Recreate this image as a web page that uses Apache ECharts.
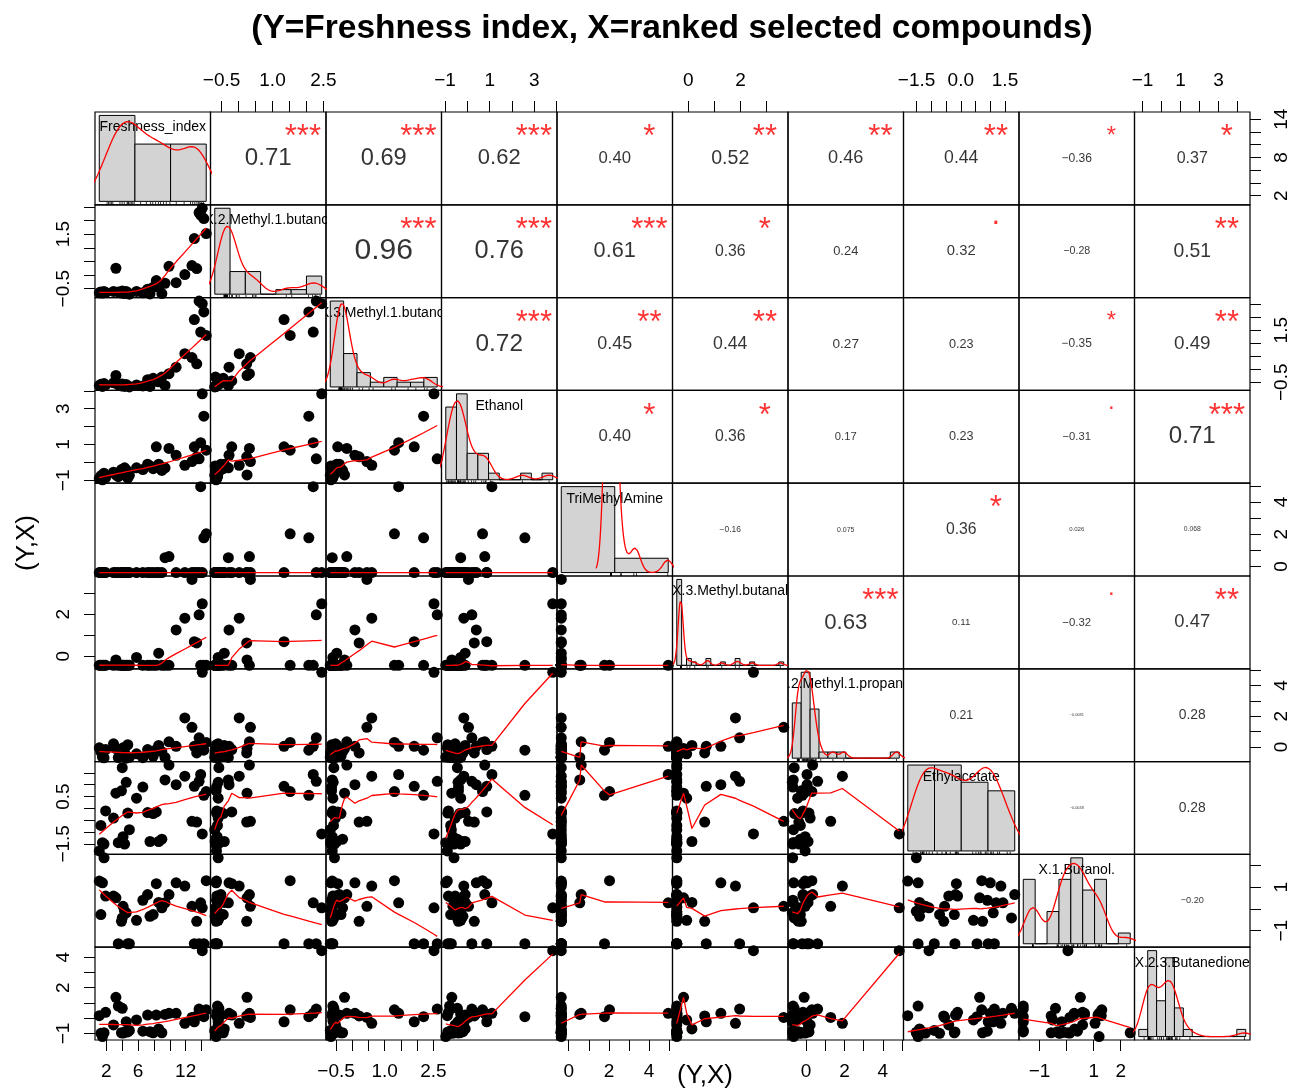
<!DOCTYPE html>
<html>
<head>
<meta charset="utf-8">
<script src="https://cdn.jsdelivr.net/npm/echarts@6/dist/echarts.min.js"></script>
<style>
  html, body { margin: 0; background: #fff; }
  #chart { width: 1293px; height: 1091px; }
</style>
</head>
<body>
<div id="chart"></div>
<script>
// variables, one value per sample (35 samples, ordered by freshness)
const varNames = ['Freshness_index', 'X.2.Methyl.1.butanol', 'X.3.Methyl.1.butanol', 'Ethanol', 'TriMethylAmine',
  'X.3.Methyl.butanal', 'X.2.Methyl.1.propanol', 'Ethylacetate', 'X.1.Butanol.', 'X.2.3.Butanedione'];

const freshness = [1.1, 1.3, 1.5, 1.7, 1.9, 2.9, 3.2, 3.5, 3.9, 4.0, 4.1, 4.3, 4.5, 4.7, 4.9,
  5.8, 6.6, 7.2, 7.5, 7.9, 8.3, 8.6, 9.0, 9.4, 9.9, 10.8, 11.9, 12.8, 13.1, 13.4, 13.7, 13.9, 14.1, 14.3, 14.6];
const methylButanol2 = [-0.65, -0.62, -0.66, -0.6, -0.64, -0.6, 0.25, -0.62, -0.66, -0.58, -0.63, -0.68, -0.6, -0.65, -0.7,
  -0.6, -0.65, -0.52, -0.69, -0.45, -0.2, -0.42, -0.68, -0.3, 0.32, -0.28, 0.02, 0.35, 1.34, 0.24, 2.29, 2.2, 2.45, 2.07, 1.52];
const methylButanol3 = [-0.62, -0.58, -0.66, -0.55, -0.6, -0.52, -0.24, -0.6, -0.64, -0.57, -0.62, -0.66, -0.59, -0.63, -0.68,
  -0.6, -0.64, -0.4, -0.66, -0.35, -0.45, -0.48, -0.3, -0.62, -0.17, 0.08, 0.6, 0.45, 1.91, 0.21, 2.62, 1.43, 2.52, 2.2, 1.3];
const ethanol = [-0.9, -0.75, -0.97, -0.6, -0.85, -0.55, -0.7, -0.8, -0.4, -0.45, -0.65, -0.3, -0.42, -0.88, -0.72,
  -0.3, -0.4, -0.1, -0.2, -0.35, 0.87, -0.1, -0.45, -0.3, 0.78, 0.4, -0.16, 0.05, 0.87, 0.31, 0.2, 1.1, 3.83, 2.58, 0.68];
const trimethylamine = [-0.37, -0.37, -0.37, -0.37, -0.37, -0.37, -0.37, -0.37, -0.37, -0.37, -0.37, -0.37, -0.37, -0.37, -0.37,
  -0.37, -0.37, -0.37, -0.37, -0.37, -0.37, -0.37, -0.37, 0.55, 0.62, -0.37, -0.37, -0.37, -0.37, -0.37, -0.37, 4.95, -0.37, 1.78, 2.03];
const methylButanal3 = [-0.44, -0.44, -0.44, -0.44, -0.44, -0.44, -0.18, -0.44, -0.44, -0.44, -0.44, -0.44, -0.44, -0.44, -0.44,
  -0.06, -0.44, -0.44, -0.44, -0.44, -0.44, 0.14, -0.44, -0.44, -0.44, 1.25, 1.81, 3.66, 0.69, 0.63, 1.97, -0.44, 2.5, -0.44, -0.44];
const methylPropanol2 = [-0.05, -0.3, -0.65, -0.7, -0.16, 0.21, -0.1, -0.68, -0.25, -0.62, -0.05, -0.35, -0.72, 0.15, -0.66,
  -0.44, -0.69, -0.16, -0.4, -0.6, -0.16, 0.1, -0.3, -0.67, 0.34, 0.05, 1.89, 1.28, 0.05, -0.38, 0.6, 0.05, 4.85, -0.2, 0.3];
const ethylacetate = [-1.8, -0.72, -1.45, -1.51, -0.11, -0.41, 0.64, -1.45, 0.74, 1.72, -1.2, -1.51, 1.1, -0.2, -0.9,
  0.43, 0.9, -0.18, -1.4, -0.22, -0.15, -1.4, -1.3, 1.2, 1.83, 1.0, 1.36, -0.55, 0.93, -0.58, 1.14, 1.43, -1.08, 0.55, 0.71];
const butanol1 = [1.28, -0.26, 1.2, 2.35, 0.59, 0.59, 0.51, -1.6, -0.57, -0.41, 0.12, -0.11, -0.18, -1.6, -1.6,
  -0.52, 0.4, 0.66, -0.34, -0.26, 1.16, 0.3, 0.05, 0.28, 0.66, 1.2, 1.05, 0.12, -1.6, -0.57, -1.6, 0.28, 0.05, -1.6, 1.3];
const butanedione23 = [0.17, -0.99, -1.2, -0.95, 0.39, -0.44, 1.37, 0.8, -0.95, 0.65, -0.97, -0.92, -0.23, -0.9, -0.8,
  -0.11, -0.85, 0.21, -0.88, -0.95, 0.21, -0.7, -0.95, 0.25, 0.32, 0.32, -0.33, 0.05, -0.23, 0.15, 0.6, 0.32, 4.43, 0.1, 0.55];

// correlations printed in the upper panels (row i, columns i+1 .. 9)
const corrCoef = [
  [0.71, 0.69, 0.62, 0.40, 0.52, 0.46, 0.44, -0.36, 0.37],
  [0.96, 0.76, 0.61, 0.36, 0.24, 0.32, -0.28, 0.51],
  [0.72, 0.45, 0.44, 0.27, 0.23, -0.35, 0.49],
  [0.40, 0.36, 0.17, 0.23, -0.31, 0.71],
  [-0.16, 0.075, 0.36, 0.026, 0.068],
  [0.63, 0.11, -0.32, 0.47],
  [0.21, -0.0081, 0.28],
  [-0.0048, 0.28],
  [-0.20]
];
const corrSignif = [
  ['***', '***', '***', '*', '**', '**', '**', '*', '*'],
  ['***', '***', '***', '*', '', '.', '', '**'],
  ['***', '**', '**', '', '', '*', '**'],
  ['*', '*', '', '', '.', '***'],
  ['', '', '*', '', ''],
  ['***', '', '.', '**'],
  ['', '', ''],
  ['', ''],
  ['']
];

// axis ticks and the labels R kept on each side
const tickStep = [2, 0.5, 0.5, 1, 1, 1, 1, 0.5, 1, 1];
const xTickLabels = [['2', '6', '12'], ['-0.5', '1.0', '2.5'], ['-0.5', '1.0', '2.5'], ['-1', '1', '3'], ['0', '2', '4'],
  ['0', '2'], ['0', '2', '4'], ['-1.5', '0.0', '1.5'], ['-1', '1', '2'], ['-1', '1', '3']];
const yTickLabels = [['2', '8', '14'], ['-0.5', '1.5'], ['-0.5', '1.5'], ['-1', '1', '3'], ['0', '2', '4'],
  ['0', '2'], ['0', '2', '4'], ['-1.5', '0.5'], ['-1', '1'], ['-1', '2', '4']];
const histBinWidth = [5, 0.5, 0.5, 0.5, 5, 0.2, 0.5, 1, 0.5, 0.5];

const vars = [freshness, methylButanol2, methylButanol3, ethanol, trimethylamine,
  methylButanal3, methylPropanol2, ethylacetate, butanol1, butanedione23];

const FONT = '"Liberation Sans", Arial, Helvetica, sans-serif';
const panelLeft = 95, panelTop = 112, panelW = 115.5, panelH = 92.8;
const nv = vars.length;

function padRange(lo, hi) {
  const r = hi - lo;
  return [lo - 0.04 * r, hi + 0.04 * r];
}

// port of R's lowess (clowess)
function lowess(xIn, yIn, f, nsteps) {
  const n = xIn.length;
  const order = xIn.map((_, i) => i).sort((a, b) => xIn[a] - xIn[b] || a - b);
  const x = order.map(i => xIn[i]);
  const y = order.map(i => yIn[i]);
  const ys = new Array(n).fill(0), rw = new Array(n).fill(1), res = new Array(n).fill(0), w = new Array(n).fill(0);
  const ns = Math.max(2, Math.min(n, Math.floor(f * n + 1e-7)));
  const range = x[n - 1] - x[0];
  const delta = 0.01 * range;

  function lowest(xs, nleft, nright, userw) {
    const h = Math.max(xs - x[nleft], x[nright] - xs);
    const h9 = 0.999 * h, h1 = 0.001 * h;
    let a = 0, j = nleft;
    while (j < n) {
      w[j] = 0;
      const r = Math.abs(x[j] - xs);
      if (r <= h9) {
        w[j] = r <= h1 ? 1 : Math.pow(1 - Math.pow(r / h, 3), 3);
        if (userw) w[j] *= rw[j];
        a += w[j];
      } else if (x[j] > xs) break;
      j++;
    }
    const nrt = j - 1;
    if (a <= 0) return null;
    for (j = nleft; j <= nrt; j++) w[j] /= a;
    if (h > 0) {
      a = 0;
      for (j = nleft; j <= nrt; j++) a += w[j] * x[j];
      let b = xs - a, c = 0;
      for (j = nleft; j <= nrt; j++) c += w[j] * (x[j] - a) * (x[j] - a);
      if (Math.sqrt(c) > 0.001 * range) {
        b /= c;
        for (j = nleft; j <= nrt; j++) w[j] *= (b * (x[j] - a) + 1);
      }
    }
    let out = 0;
    for (j = nleft; j <= nrt; j++) out += w[j] * y[j];
    return out;
  }

  for (let iter = 1; iter <= nsteps + 1; iter++) {
    let nleft = 0, nright = ns - 1, last = -1, i = 0;
    for (;;) {
      if (nright < n - 1) {
        const d1 = x[i] - x[nleft], d2 = x[nright + 1] - x[i];
        if (d1 > d2) { nleft++; nright++; continue; }
      }
      const v = lowest(x[i], nleft, nright, iter > 1);
      ys[i] = v === null ? y[i] : v;
      if (last < i - 1) {
        const denom = x[i] - x[last];
        for (let j = last + 1; j < i; j++) {
          const alpha = (x[j] - x[last]) / denom;
          ys[j] = alpha * ys[i] + (1 - alpha) * ys[last];
        }
      }
      last = i;
      const cut = x[last] + delta;
      for (i = last + 1; i < n; i++) {
        if (x[i] > cut) break;
        if (x[i] === x[last]) { ys[i] = ys[last]; last = i; }
      }
      i = Math.max(last + 1, i - 1);
      if (last >= n - 1) break;
    }
    let sc = 0;
    for (let i2 = 0; i2 < n; i2++) { res[i2] = y[i2] - ys[i2]; sc += Math.abs(res[i2]); }
    sc /= n;
    if (iter > nsteps) break;
    const ar = res.map(Math.abs).sort((a, b) => a - b);
    const cmad = n % 2 === 0 ? 3 * (ar[n / 2] + ar[n / 2 - 1]) : 6 * ar[(n - 1) / 2];
    if (cmad < 1e-7 * sc) break;
    const c9 = 0.999 * cmad, c1 = 0.001 * cmad;
    for (let i2 = 0; i2 < n; i2++) {
      const r = Math.abs(res[i2]);
      rw[i2] = r <= c1 ? 1 : r <= c9 ? Math.pow(1 - Math.pow(r / cmad, 2), 2) : 0;
    }
  }
  return x.map((xv, i) => [xv, ys[i]]);
}

// gaussian kernel density with R's bw.nrd0
function density(v) {
  const n = v.length;
  const s = v.slice().sort((a, b) => a - b);
  const mean = v.reduce((a, b) => a + b, 0) / n;
  const sd = Math.sqrt(v.reduce((a, b) => a + (b - mean) * (b - mean), 0) / (n - 1));
  const q = p => { const h = (n - 1) * p, lo = Math.floor(h); return s[lo] + (h - lo) * (s[Math.min(lo + 1, n - 1)] - s[lo]); };
  let lo = Math.min(sd, (q(0.75) - q(0.25)) / 1.34);
  if (!(lo > 0)) lo = sd || Math.abs(v[0]) || 1;
  const bw = 0.9 * lo * Math.pow(n, -0.2);
  const from = s[0] - 3 * bw, to = s[n - 1] + 3 * bw;
  const pts = [];
  for (let k = 0; k < 512; k++) {
    const xx = from + (to - from) * k / 511;
    let d = 0;
    for (const xi of v) { const z = (xx - xi) / bw; d += Math.exp(-0.5 * z * z); }
    pts.push([xx, d / (n * bw * Math.sqrt(2 * Math.PI))]);
  }
  return pts;
}

const ranges = vars.map(v => padRange(Math.min(...v), Math.max(...v)));
const ticks = ranges.map((rg, k) => {
  const st = tickStep[k], out = [];
  for (let t = Math.ceil(rg[0] / st - 1e-9); t <= Math.floor(rg[1] / st + 1e-9); t++) out.push(+(t * st).toFixed(6));
  return out;
});

const hist = vars.map((v, k) => {
  const bw = histBinWidth[k];
  const start = Math.floor(Math.min(...v) / bw + 1e-9) * bw;
  const end = Math.ceil(Math.max(...v) / bw - 1e-9) * bw;
  const nb = Math.round((end - start) / bw);
  const counts = new Array(nb).fill(0);
  v.forEach(xv => {
    let b = Math.ceil((xv - start) / bw - 1e-9) - 1;
    if (b < 0) b = 0;
    if (b >= nb) b = nb - 1;
    counts[b]++;
  });
  const bins = counts.map((c, b) => [start + b * bw, start + (b + 1) * bw, c / (v.length * bw)]);
  const M = Math.max(...bins.map(b => b[2]));
  return { bins, xRange: padRange(start, end), yRange: padRange(0, M), dens: density(v) };
});

const charEm = { '0': .556, '1': .556, '2': .556, '3': .556, '4': .556, '5': .556, '6': .556, '7': .556, '8': .556, '9': .556, '.': .278, '\u2212': .584 };
function emWidth(t) { let s = 0; for (const ch of t) s += charEm[ch] || .556; return s; }
function fmtCorr(r) {
  const t = Math.abs(r) < 0.1 ? r.toPrecision(2) : r.toFixed(2);
  return t.replace('-', '\u2212');
}

function makeAxis(dim, k, rg, v, pos, show) {
  const labels = dim === 'x' ? xTickLabels[v] : yTickLabels[v];
  const labelVals = labels.map(s => parseFloat(s));
  return {
    type: 'value', gridIndex: k, min: rg[0], max: rg[1], position: pos,
    axisLine: { show: false, onZero: false }, splitLine: { show: false },
    axisTick: { show: show, customValues: ticks[v], length: 11, lineStyle: { color: '#000', width: 1 } },
    axisLabel: {
      show: show, customValues: labelVals, margin: 22, rotate: dim === 'y' ? 90 : 0,
      fontSize: 19, color: '#000', fontFamily: FONT,
      formatter: val => {
        const idx = labelVals.findIndex(u => Math.abs(u - val) < 1e-6);
        return idx < 0 ? '' : labels[idx].replace('-', '\u2212');
      }
    },
    silent: true
  };
}

const grids = [], xAxes = [], yAxes = [], series = [];
for (let i = 0; i < nv; i++) {
  for (let j = 0; j < nv; j++) {
    const k = i * nv + j;
    grids.push({
      left: panelLeft + j * panelW, top: panelTop + i * panelH, width: panelW, height: panelH,
      show: true, borderColor: '#000', borderWidth: 1.2, outerBoundsMode: 'none'
    });
    const showTop = i === 0 && j % 2 === 1;
    const showBottom = i === nv - 1 && j % 2 === 0;
    const showLeft = j === 0 && i % 2 === 1;
    const showRight = j === nv - 1 && i % 2 === 0;
    const xr = i === j ? hist[i].xRange : ranges[j];
    const yr = i === j ? hist[i].yRange : ranges[i];
    xAxes.push(makeAxis('x', k, xr, j, showTop ? 'top' : 'bottom', showTop || showBottom));
    yAxes.push(makeAxis('y', k, yr, i, showRight ? 'right' : 'left', showLeft || showRight));

    if (i > j) {
      series.push({
        type: 'scatter', xAxisIndex: k, yAxisIndex: k, silent: true,
        data: vars[j].map((xv, n) => [xv, vars[i][n]]),
        symbolSize: 11, itemStyle: { color: '#000', opacity: 1 }
      });
      series.push({
        type: 'line', xAxisIndex: k, yAxisIndex: k, silent: true,
        data: lowess(vars[j], vars[i], 2 / 3, 3),
        symbol: 'none', lineStyle: { color: '#ff0000', width: 1.3 }
      });
    } else if (i < j) {
      const r = corrCoef[i][j - i - 1], sig = corrSignif[i][j - i - 1];
      const txt = fmtCorr(r);
      const base = 46.5 / emWidth(txt);
      series.push({
        type: 'scatter', xAxisIndex: k, yAxisIndex: k, silent: true,
        data: [[xr[0] + 0.5 * (xr[1] - xr[0]), yr[0] + 0.5 * (yr[1] - yr[0])]],
        symbolSize: 1, itemStyle: { color: 'rgba(0,0,0,0)' },
        label: { show: true, position: 'inside', formatter: txt, fontSize: base * (Math.abs(r) + 0.3), color: '#000', fontFamily: FONT }
      });
      if (sig) {
        const fs = base * 1.3;
        series.push({
          type: 'scatter', xAxisIndex: k, yAxisIndex: k, silent: true,
          data: [[xr[0] + 0.8 * (xr[1] - xr[0]), yr[0] + 0.8 * (yr[1] - yr[0])]],
          symbolSize: 1, itemStyle: { color: 'rgba(0,0,0,0)' },
          label: { show: true, position: 'inside', formatter: sig, fontSize: fs, color: '#ff0000', fontFamily: FONT,
            offset: [0, sig === '.' ? -0.26 * fs : 0.23 * fs] }
        });
      }
    } else {
      const h = hist[i];
      series.push({
        type: 'custom', xAxisIndex: k, yAxisIndex: k, clip: true, silent: true,
        data: h.bins,
        renderItem: (p, api) => {
          const a = api.coord([api.value(0), 0]);
          const b = api.coord([api.value(1), api.value(2)]);
          return { type: 'rect', shape: { x: a[0], y: b[1], width: b[0] - a[0], height: a[1] - b[1] },
            style: { fill: '#d3d3d3', stroke: '#000', lineWidth: 1 } };
        }
      });
      series.push({
        type: 'custom', xAxisIndex: k, yAxisIndex: k, clip: true, silent: true,
        data: vars[i].map(xv => [xv, h.yRange[0]]),
        renderItem: (p, api) => {
          const a = api.coord([api.value(0), h.yRange[0]]);
          const b = api.coord([api.value(0), h.yRange[0] + 0.03 * (h.yRange[1] - h.yRange[0])]);
          return { type: 'line', shape: { x1: a[0], y1: a[1], x2: b[0], y2: b[1] }, style: { stroke: '#000', lineWidth: 0.8 } };
        }
      });
      series.push({
        type: 'line', xAxisIndex: k, yAxisIndex: k, silent: true,
        data: h.dens, symbol: 'none', lineStyle: { color: '#ff0000', width: 1.3 }
      });
      series.push({
        type: 'custom', xAxisIndex: k, yAxisIndex: k, clip: true, silent: true,
        data: [[h.xRange[0] + 0.5 * (h.xRange[1] - h.xRange[0]), h.yRange[0] + 0.833 * (h.yRange[1] - h.yRange[0])]],
        renderItem: (p, api) => {
          const c = api.coord([api.value(0), api.value(1)]);
          return { type: 'text', x: c[0], y: c[1],
            style: { text: varNames[i], fill: '#000', font: '14px ' + FONT, align: 'center', verticalAlign: 'middle',
              textAlign: 'center', textVerticalAlign: 'middle' } };
        }
      });
    }
  }
}

const chart = echarts.init(document.getElementById('chart'));
chart.setOption({
  animation: false,
  backgroundColor: '#fff',
  grid: grids,
  xAxis: xAxes,
  yAxis: yAxes,
  series: series,
  graphic: [
    { type: 'text', x: 672, y: 29, style: { text: '(Y=Freshness index, X=ranked selected compounds)', font: 'bold 33.5px ' + FONT,
      fill: '#000', textAlign: 'center', textVerticalAlign: 'middle' } },
    { type: 'text', x: 705, y: 1076, style: { text: '(Y,X)', font: '26px ' + FONT, fill: '#000', textAlign: 'center', textVerticalAlign: 'middle' } },
    { type: 'text', x: 27, y: 543, rotation: Math.PI / 2, style: { text: '(Y,X)', font: '26px ' + FONT, fill: '#000', textAlign: 'center', textVerticalAlign: 'middle' } }
  ]
});
</script>
</body>
</html>
